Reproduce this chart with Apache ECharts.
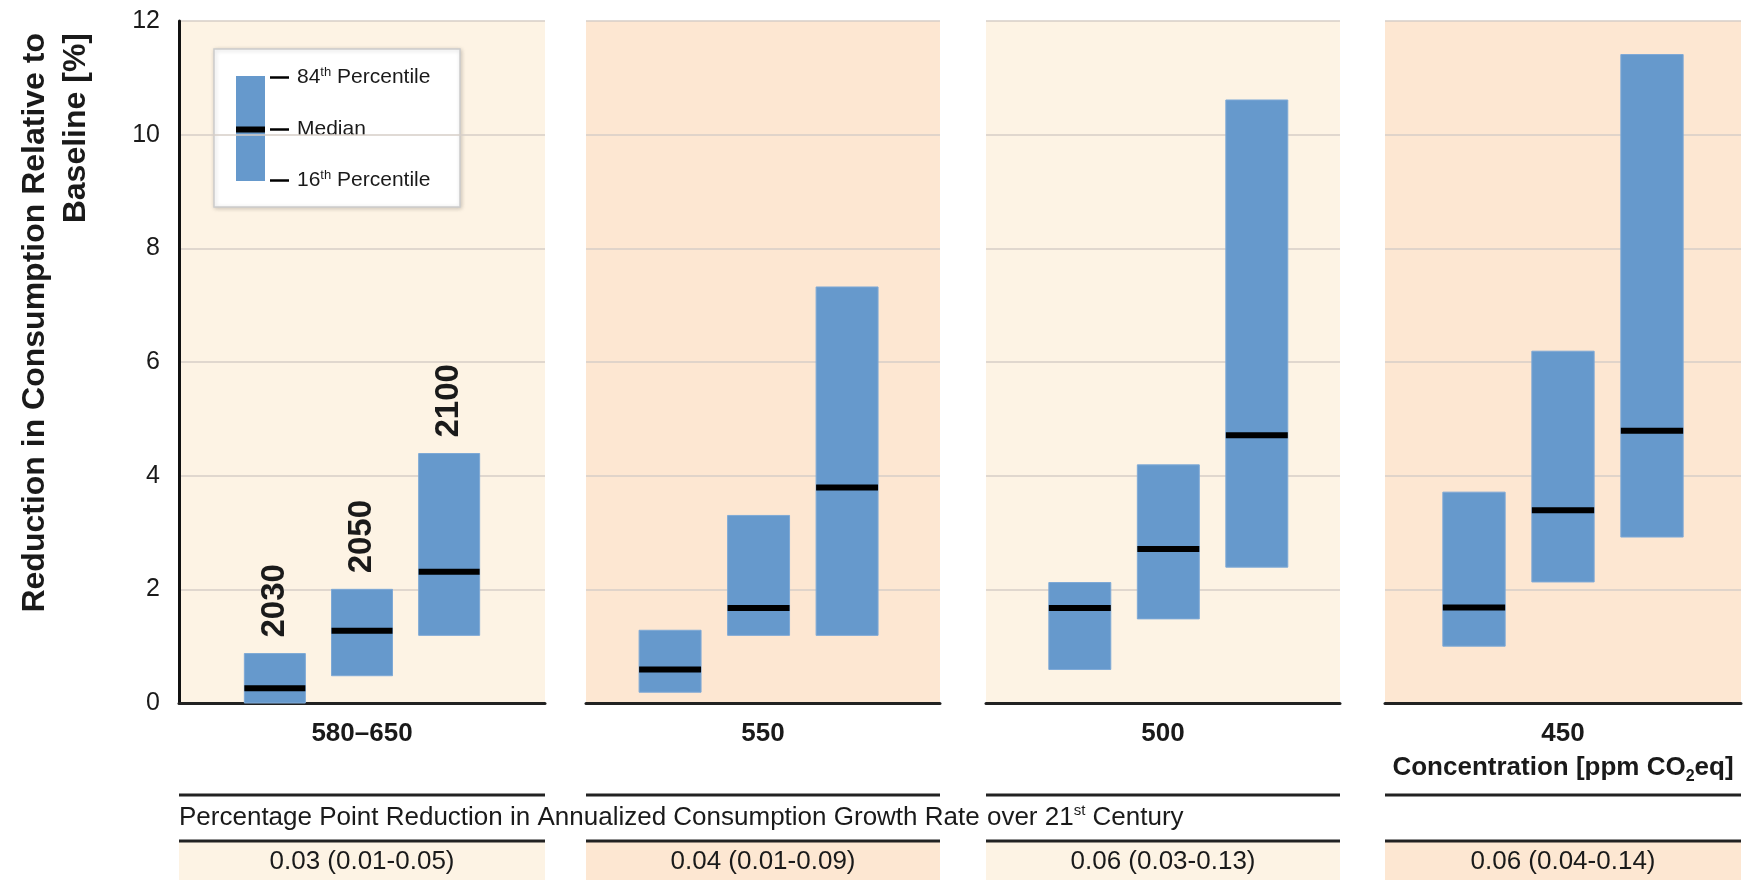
<!DOCTYPE html>
<html>
<head>
<meta charset="utf-8">
<script src="https://cdn.jsdelivr.net/npm/echarts@6/dist/echarts.min.js"></script>
<style>
html,body{margin:0;padding:0;background:#fff;}
#chart{width:1743px;height:887px;}
</style>
</head>
<body>
<div id="chart"></div>
<script>
// ---- data ----
const concentrations = ['580–650', '550', '500', '450'];
const years = ['2030', '2050', '2100'];
// 16th percentile per concentration panel (2030, 2050, 2100)
const p16_580_650 = [0.0, 0.48, 1.19];
const p16_550 = [0.19, 1.19, 1.19];
const p16_500 = [0.59, 1.48, 2.39];
const p16_450 = [1.0, 2.13, 2.92];
// medians
const med_580_650 = [0.26, 1.27, 2.31];
const med_550 = [0.59, 1.67, 3.79];
const med_500 = [1.67, 2.71, 4.71];
const med_450 = [1.68, 3.39, 4.79];
// 84th percentile
const p84_580_650 = [0.87, 2.0, 4.39];
const p84_550 = [1.28, 3.30, 7.32];
const p84_500 = [2.12, 4.19, 10.61];
const p84_450 = [3.71, 6.19, 11.41];
const growthRates = ['0.03 (0.01-0.05)', '0.04 (0.01-0.09)', '0.06 (0.03-0.13)', '0.06 (0.04-0.14)'];
const yTickMax = 12, yTickStep = 2;

const p16 = [p16_580_650, p16_550, p16_500, p16_450];
const med = [med_580_650, med_550, med_500, med_450];
const p84 = [p84_580_650, p84_550, p84_500, p84_450];

// ---- layout ----
const FONT = "'Liberation Sans', Arial, sans-serif";
const CREAM = '#fdf3e4', PEACH = '#fde7d2', BLUE = '#6699cc', INK = '#1a1a1a';
const TOP = 21, BOTTOM = 703;
// slot positions are 2,3,4 (range never contains 0, so no axis snaps to zero)
const panels = [
  {left: 179, width: 366, xmin: 0.9, xmax: 5.1, bg: CREAM},
  {left: 586, width: 354, xmin: 1.05, xmax: 5.05, bg: PEACH},
  {left: 986, width: 354, xmin: 0.94, xmax: 4.94, bg: CREAM},
  {left: 1385, width: 356, xmin: 1, xmax: 5, bg: PEACH}
];

const rich = {
  sup: {fontSize: 13, lineHeight: 14, verticalAlign: 'top', fontFamily: FONT, color: INK},
  supb: {fontSize: 15, lineHeight: 14, verticalAlign: 'top', fontFamily: FONT, color: INK},
  b: {fontSize: 26, fontWeight: 'bold', lineHeight: 34, fontFamily: FONT, color: INK},
  sub: {fontSize: 16, fontWeight: 'bold', lineHeight: 20, verticalAlign: 'bottom', fontFamily: FONT, color: INK}
};

function renderItem(params, api) {
  const x = api.value(0);
  const lo = api.value(1), m = api.value(2), hi = api.value(3);
  const pTop = api.coord([x, hi]);
  const pBot = api.coord([x, lo]);
  const pMed = api.coord([x, m]);
  const w = api.size([0.7, 0])[0];
  const children = [
    {type: 'rect', shape: {x: pTop[0] - w / 2, y: pTop[1], width: w, height: pBot[1] - pTop[1]},
     style: {fill: BLUE, stroke: '#7ea9d6', lineWidth: 1}},
    {type: 'rect', shape: {x: pMed[0] - w / 2, y: pMed[1] - 3, width: w, height: 6},
     style: {fill: '#000'}}
  ];
  if (params.seriesIndex === 0) {
    children.push({
      type: 'text', x: pTop[0], y: pTop[1] - 16, rotation: Math.PI / 2,
      style: {text: years[params.dataIndex], align: 'left', verticalAlign: 'middle',
              font: "bold 33px " + FONT, fill: INK}
    });
  }
  return {type: 'group', children: children};
}

const grid = [], xAxis = [], yAxis = [], series = [];
panels.forEach((p, i) => {
  grid.push({left: p.left, width: p.width, top: TOP, height: BOTTOM - TOP,
             show: true, backgroundColor: p.bg, borderWidth: 0});
  xAxis.push({
    gridIndex: i, type: 'value', min: p.xmin, max: p.xmax,
    axisLine: {show: true, onZero: false, lineStyle: {color: '#222', width: 3}},
    axisTick: {show: false}, axisLabel: {show: false}, splitLine: {show: false},
    name: i === 3 ? concentrations[i] + '\n{b|Concentration [ppm CO}{sub|2}{b|eq]}' : concentrations[i],
    nameLocation: 'middle', nameGap: 14,
    nameTextStyle: {fontSize: 26, fontWeight: 'bold', color: INK, fontFamily: FONT,
                    lineHeight: 34, verticalAlign: 'top', align: 'center', rich: rich}
  });
  yAxis.push({
    gridIndex: i, type: 'value', min: 0, max: yTickMax, interval: yTickStep,
    axisLine: {show: i === 0, onZero: false, lineStyle: {color: '#111', width: 3}},
    axisTick: {show: false},
    axisLabel: {show: i === 0, fontSize: 25, color: INK, fontFamily: FONT, margin: 19},
    splitLine: {show: true, lineStyle: {color: '#d6cec7', width: 1.5}}
  });
  series.push({
    type: 'custom', xAxisIndex: i, yAxisIndex: i, renderItem: renderItem,
    data: years.map((y, j) => [j + 2, p16[i][j], med[i][j], p84[i][j]]),
    z: 5
  });
});

// ---- decorations: axis title, legend, table ----
const graphic = [];
graphic.push({
  type: 'text', x: 15, y: 33, rotation: Math.PI / 2, z: 100,
  style: {text: 'Reduction in Consumption Relative to\nBaseline [%]', align: 'right', verticalAlign: 'top',
          font: 'bold 32px ' + FONT, lineHeight: 41, fill: INK}
});
// legend
const lg = {type: 'group', z: 100, children: [
  {type: 'rect', shape: {x: 214, y: 49, width: 246, height: 158},
   style: {fill: '#fff', stroke: '#cccccc', lineWidth: 1.5, shadowBlur: 4, shadowColor: 'rgba(0,0,0,0.18)', shadowOffsetX: 1, shadowOffsetY: 1}},
  {type: 'rect', shape: {x: 236, y: 76, width: 29, height: 105}, style: {fill: BLUE}},
  {type: 'rect', shape: {x: 236, y: 126.5, width: 29, height: 6}, style: {fill: '#000'}},
  {type: 'line', shape: {x1: 270, y1: 77.5, x2: 289, y2: 77.5}, style: {stroke: '#000', lineWidth: 2.5}},
  {type: 'line', shape: {x1: 270, y1: 129.5, x2: 289, y2: 129.5}, style: {stroke: '#000', lineWidth: 2.5}},
  {type: 'line', shape: {x1: 270, y1: 180.5, x2: 289, y2: 180.5}, style: {stroke: '#000', lineWidth: 2.5}},
  {type: 'text', x: 297, y: 77.5, style: {text: '84{sup|th} Percentile', rich: rich, font: '21px ' + FONT, fill: INK, verticalAlign: 'middle', lineHeight: 24}},
  {type: 'text', x: 297, y: 129.5, style: {text: 'Median', font: '21px ' + FONT, fill: INK, verticalAlign: 'middle'}},
  {type: 'text', x: 297, y: 180.5, style: {text: '16{sup|th} Percentile', rich: rich, font: '21px ' + FONT, fill: INK, verticalAlign: 'middle', lineHeight: 24}}
]};
graphic.push(lg);
// table rows
panels.forEach((p, i) => {
  graphic.push({type: 'rect', z: 99, shape: {x: p.left, y: 841, width: p.width, height: 39}, style: {fill: p.bg}});
  graphic.push({type: 'line', z: 100, shape: {x1: p.left, y1: 795, x2: p.left + p.width, y2: 795}, style: {stroke: '#222', lineWidth: 3}});
  graphic.push({type: 'line', z: 100, shape: {x1: p.left, y1: 841, x2: p.left + p.width, y2: 841}, style: {stroke: '#222', lineWidth: 3}});
  graphic.push({type: 'text', z: 100, x: p.left + p.width / 2, y: 862,
    style: {text: growthRates[i], font: '26px ' + FONT, fill: INK, align: 'center', verticalAlign: 'middle'}});
});
graphic.push({type: 'text', z: 100, x: 179, y: 818,
  style: {text: 'Percentage Point Reduction in Annualized Consumption Growth Rate over 21{supb|st} Century',
          rich: rich, font: '26px ' + FONT, fill: INK, align: 'left', verticalAlign: 'middle', lineHeight: 30}});

const chart = echarts.init(document.getElementById('chart'), null, {renderer: 'canvas'});
chart.setOption({
  animation: false,
  backgroundColor: '#fff',
  grid: grid, xAxis: xAxis, yAxis: yAxis, series: series, graphic: graphic
});
</script>
</body>
</html>
